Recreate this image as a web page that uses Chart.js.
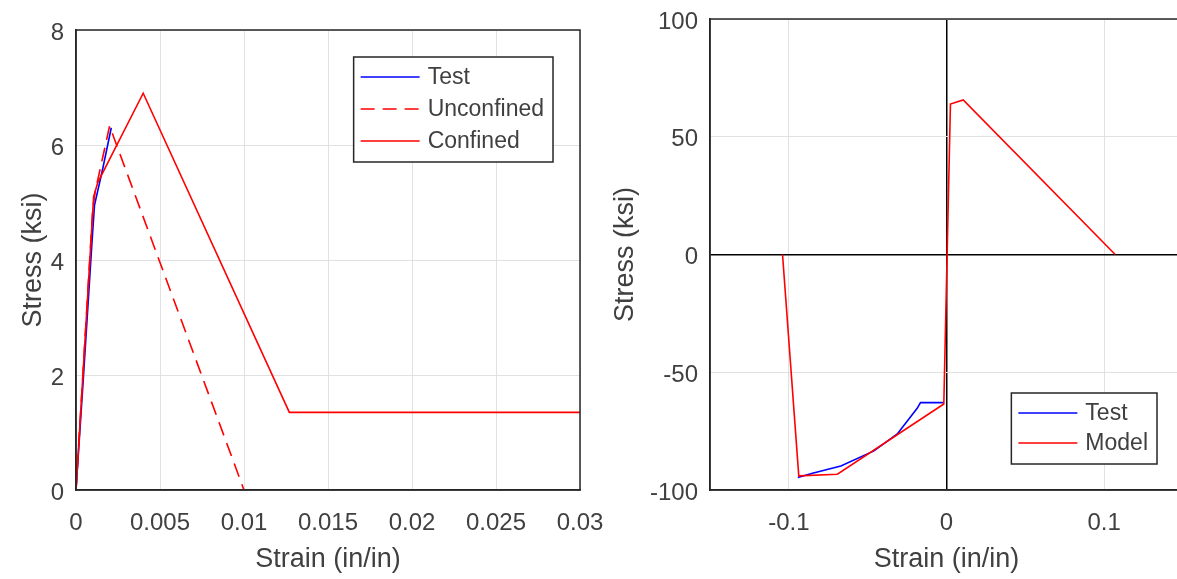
<!DOCTYPE html>
<html>
<head>
<meta charset="utf-8">
<script src="https://cdn.jsdelivr.net/npm/chart.js@4.4.1/dist/chart.umd.min.js"></script>
<style>
    body { margin: 0; background: #fff; width: 1177px; height: 579px; overflow: hidden; position: relative; }
    canvas { position: absolute; }
    #left { left: 0; top: 0; }
    #right { left: 590px; top: -8px; }
</style>
</head>
<body>
<canvas id="left" width="640" height="579"></canvas>
<canvas id="right" width="640" height="587"></canvas>
<script>

// ---- left plot: monotonic stress-strain
var testStrain = [0, 0.00045, 0.00095, 0.0011, 0.0016, 0.0021];
var testStress = [0, 2.0, 4.3, 4.95, 5.6, 6.3];

var unconfStrain = [0, 0.001, 0.00115, 0.002, 0.01];
var unconfStress = [0, 4.9, 5.2, 6.33, 0];

var confStrain = [0, 0.00105, 0.0013, 0.004, 0.0127, 0.03];
var confStress = [0, 5.1, 5.35, 6.9, 1.35, 1.35];

var leftXTicks = [0, 0.005, 0.01, 0.015, 0.02, 0.025, 0.03];
var leftXLabels = ['0', '0.005', '0.01', '0.015', '0.02', '0.025', '0.03'];
var leftYTicks = [0, 2, 4, 6, 8];
var leftYLabels = ['0', '2', '4', '6', '8'];

// ---- right plot: cyclic test vs model
var cycTestStrain = [-0.0943, -0.085, -0.067, -0.046, -0.0312, -0.0186, -0.0165, -0.0021];
var cycTestStress = [-94.7, -92.9, -89.8, -83.4, -76.2, -65.3, -62.9, -62.9];

var modelStrain = [-0.104, -0.0937, -0.0692, -0.0017, 0.0025, 0.0106, 0.107];
var modelStress = [0, -94, -93.3, -63.5, 63.9, 65.6, 0];

var rightXTicks = [-0.1, 0, 0.1];
var rightXLabels = ['-0.1', '0', '0.1'];
var rightYTicks = [-100, -50, 0, 50, 100];
var rightYLabels = ['-100', '-50', '0', '50', '100'];


var textColor = '#404040';
var gridColor = '#e1e1e1';
var axisColor = '#262626';
var fontFamily = 'Arial, "Liberation Sans", Helvetica, sans-serif';

function pts(xs, ys) {
    var out = [];
    for (var i = 0; i < xs.length; i++) {
        out.push({x: xs[i], y: ys[i]});
    }
    return out;
}

// frame box + matlab style legend
var framePlugin = {
    id: 'frame',
    afterDraw: function (chart, args, opts) {
        var ctx = chart.ctx;
        var a = chart.chartArea;
        ctx.save();
        ctx.strokeStyle = axisColor;
        ctx.lineWidth = 1.5;
        ctx.strokeRect(a.left, a.top, a.right - a.left, a.bottom - a.top);

        // legend
        var sets = chart.data.datasets;
        ctx.font = opts.fontSize + 'px ' + fontFamily;
        var maxW = 0;
        for (var i = 0; i < sets.length; i++) {
            maxW = Math.max(maxW, ctx.measureText(sets[i].label).width);
        }
        var w = 7 + 59 + 8 + maxW + 9;
        var h = 20 + 21 + (sets.length - 1) * opts.rowHeight;
        var x = a.right - opts.right - w;
        var y = opts.top != undefined ? a.top + opts.top : a.bottom - opts.bottom - h;

        ctx.fillStyle = '#fff';
        ctx.fillRect(x, y, w, h);
        ctx.strokeStyle = axisColor;
        ctx.lineWidth = 1.5;
        ctx.strokeRect(x, y, w, h);

        for (var j = 0; j < sets.length; j++) {
            var ry = y + 20 + j * opts.rowHeight;
            ctx.beginPath();
            ctx.strokeStyle = sets[j].borderColor;
            ctx.lineWidth = sets[j].borderWidth;
            ctx.setLineDash(sets[j].borderDash || []);
            ctx.moveTo(x + 7, ry);
            ctx.lineTo(x + 66, ry);
            ctx.stroke();
            ctx.setLineDash([]);
            ctx.fillStyle = textColor;
            ctx.textBaseline = 'middle';
            ctx.textAlign = 'left';
            ctx.fillText(sets[j].label, x + 74, ry + 1);
        }
        ctx.restore();
    }
};

function makeScale(min, max, ticks, labels, title, fit, titlePad, zeroLine) {
    var horiz = title.indexOf('Strain') == 0;
    return {
        type: 'linear',
        min: min,
        max: max,
        afterBuildTicks: function (scale) {
            scale.ticks = ticks.map(function (v) { return {value: v}; });
        },
        afterFit: function (scale) {
            if (scale.isHorizontal()) {
                scale.height = fit;
            } else {
                scale.width = fit;
            }
        },
        ticks: {
            color: textColor,
            font: {family: fontFamily, size: 24},
            padding: horiz ? 19 : 12,
            labelOffset: horiz ? 0 : 3,
            maxRotation: 0,
            autoSkip: false,
            callback: function (value, index) {
                return labels[index];
            }
        },
        grid: {
            drawTicks: false,
            color: function (c) {
                return (zeroLine && c.tick && c.tick.value === 0) ? '#000' : gridColor;
            },
            lineWidth: function (c) {
                return (zeroLine && c.tick && c.tick.value === 0) ? 1.5 : 1;
            }
        },
        border: {display: true, color: axisColor, width: 1.5},
        title: {
            display: true,
            text: title,
            color: textColor,
            font: {family: fontFamily, size: 27},
            padding: titlePad
        }
    };
}

function lineSet(label, xs, ys, color, dash, order) {
    return {
        label: label,
        data: pts(xs, ys),
        showLine: true,
        borderColor: color,
        borderWidth: 1.6,
        borderDash: dash,
        pointRadius: 0,
        tension: 0,
        fill: false,
        order: order
    };
}

new Chart(document.getElementById('left'), {
    type: 'scatter',
    data: {
        datasets: [
            lineSet('Test', testStrain, testStress, '#0000ff', [], 3),
            lineSet('Unconfined', unconfStrain, unconfStress, '#ff0000', [14, 8], 2),
            lineSet('Confined', confStrain, confStress, '#ff0000', [], 1)
        ]
    },
    options: {
        responsive: false,
        animation: false,
        layout: {padding: {top: 30, right: 60, left: 0, bottom: 0}},
        plugins: {
            legend: {display: false},
            tooltip: {enabled: false},
            frame: {right: 27, top: 27, rowHeight: 32, fontSize: 23}
        },
        scales: {
            x: makeScale(0, 0.03, leftXTicks, leftXLabels, 'Strain (in/in)', 89, {top: 0, bottom: 3}, false),
            y: makeScale(0, 8, leftYTicks, leftYLabels, 'Stress (ksi)', 76, {top: 17, bottom: 0}, false)
        }
    },
    plugins: [framePlugin]
});

new Chart(document.getElementById('right'), {
    type: 'scatter',
    data: {
        datasets: [
            lineSet('Test', cycTestStrain, cycTestStress, '#0000ff', [], 2),
            lineSet('Model', modelStrain, modelStress, '#ff0000', [], 1)
        ]
    },
    options: {
        responsive: false,
        animation: false,
        layout: {padding: {top: 27, right: 47, left: 0, bottom: 0}},
        plugins: {
            legend: {display: false},
            tooltip: {enabled: false},
            frame: {right: 26, bottom: 26, rowHeight: 30, fontSize: 23}
        },
        scales: {
            x: makeScale(-0.15, 0.15, rightXTicks, rightXLabels, 'Strain (in/in)', 89, {top: 0, bottom: 3}, true),
            y: makeScale(-100, 100, rightYTicks, rightYLabels, 'Stress (ksi)', 120, {top: 19, bottom: 0}, true)
        }
    },
    plugins: [framePlugin]
});

</script>
</body>
</html>
